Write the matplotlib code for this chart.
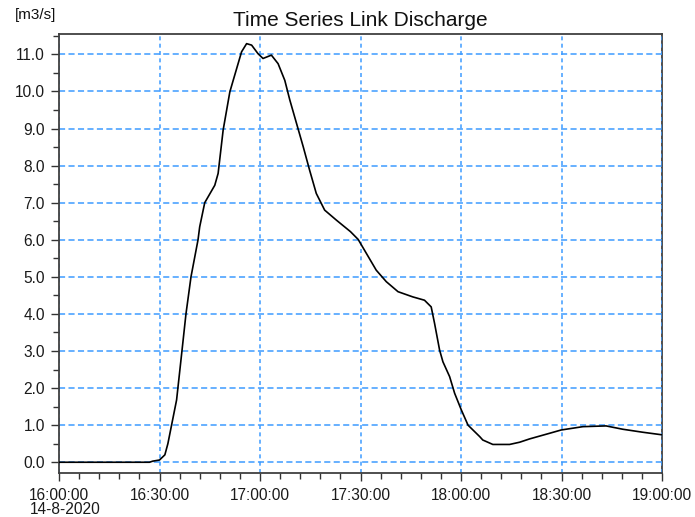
import matplotlib
matplotlib.use("Agg")
import matplotlib.pyplot as plt
import matplotlib.dates as mdates
from matplotlib.ticker import MultipleLocator, FormatStrFormatter
import numpy as np

plt.rcParams['font.family'] = ['Liberation Sans', 'DejaVu Sans']

title = "Time Series Link Discharge"
unit_label = "[m3/s]"
date_label = "14-8-2020"
day = "2020-08-14"

times = ["16:00:00", "16:27:00", "16:28:00", "16:30:00", "16:31:36", "16:32:30",
         "16:33:36", "16:35:06", "16:36:42", "16:37:54", "16:39:24", "16:41:30",
         "16:42:00", "16:43:30", "16:46:30", "16:47:30", "16:49:00", "16:51:00",
         "16:52:00", "16:54:30", "16:56:00", "16:57:30", "16:59:24", "17:00:54",
         "17:03:24", "17:05:24", "17:07:24", "17:08:54", "17:10:54", "17:12:54",
         "17:14:48", "17:16:48", "17:19:18", "17:22:48", "17:27:00", "17:29:18",
         "17:34:42", "17:37:42", "17:41:12", "17:45:36", "17:49:06", "17:51:06",
         "17:52:06", "17:53:36", "17:54:36", "17:56:36", "17:58:06", "18:00:06",
         "18:02:06", "18:05:36", "18:06:30", "18:09:30", "18:14:30", "18:17:30",
         "18:20:30", "18:26:24", "18:29:54", "18:36:24", "18:43:18", "18:48:18",
         "18:54:12", "19:00:00"]
discharge = [0.00, 0.00, 0.03, 0.06, 0.20, 0.50,
             1.00, 1.68, 3.00, 4.00, 5.00, 6.00,
             6.35, 7.00, 7.47, 7.79, 8.96, 9.99,
             10.30, 11.07, 11.29, 11.25, 11.02, 10.89,
             10.98, 10.75, 10.30, 9.77, 9.14, 8.51,
             7.88, 7.25, 6.80, 6.53, 6.22, 6.01,
             5.18, 4.87, 4.60, 4.46, 4.37, 4.19,
             3.75, 3.03, 2.71, 2.31, 1.86, 1.41,
             1.00, 0.69, 0.60, 0.48, 0.48, 0.54,
             0.63, 0.78, 0.87, 0.96, 0.98, 0.89,
             0.81, 0.74]

x = np.array([np.datetime64(f"{day}T{t}") for t in times]).astype("datetime64[s]").astype(object)

W, H = 695, 517
fig = plt.figure(figsize=(W / 100, H / 100), dpi=100)
ax = fig.add_axes([59 / W, 1 - 473 / H, (662 - 59) / W, (473 - 34) / H])

grid_color = "#3D9BFF"
ax.plot(x, discharge, color="black", lw=1.2, zorder=3)

ax.set_xlim(np.datetime64(f"{day}T16:00:00").astype(object), np.datetime64(f"{day}T19:00:00").astype(object))
ax.set_ylim(-0.29, 11.55)

ax.xaxis.set_major_locator(mdates.MinuteLocator(byminute=[0, 30]))
ax.xaxis.set_minor_locator(mdates.MinuteLocator(byminute=range(0, 60, 6)))
ax.xaxis.set_major_formatter(mdates.DateFormatter("%H:%M:%S"))
ax.yaxis.set_major_locator(MultipleLocator(1.0))
ax.yaxis.set_minor_locator(MultipleLocator(0.5))
ax.yaxis.set_major_formatter(FormatStrFormatter("%.1f"))

ax.yaxis.grid(True, which="major", color=grid_color, lw=1.1, linestyle=(0, (4, 2.2)))
ax.xaxis.grid(True, which="major", color=grid_color, lw=1.1, linestyle=(0, (2.6, 2.2)))

tick_color = "#1a1a1a"
ax.tick_params(which="major", length=6, width=1, color="#333333", labelsize=11.2,
               labelcolor=tick_color, pad=4)
ax.tick_params(which="minor", length=4, width=1, color="#333333")
ax.tick_params(axis="x", which="major", pad=5)

for s in ax.spines.values():
    s.set_color("#404040")
    s.set_linewidth(1.3)
ax.spines["right"].set_zorder(1)

fig.text(360 / W, 1 - 20 / H, title, ha="center", va="center", fontsize=15, color="#111111")
fig.text(15 / W, 1 - 15 / H, unit_label, ha="left", va="center", fontsize=11, color="#111111")
fig.text(30 / W, 1 - 510 / H, date_label, ha="left", va="center", fontsize=11.2, color=tick_color)

fig.savefig("out.png", dpi=100)
